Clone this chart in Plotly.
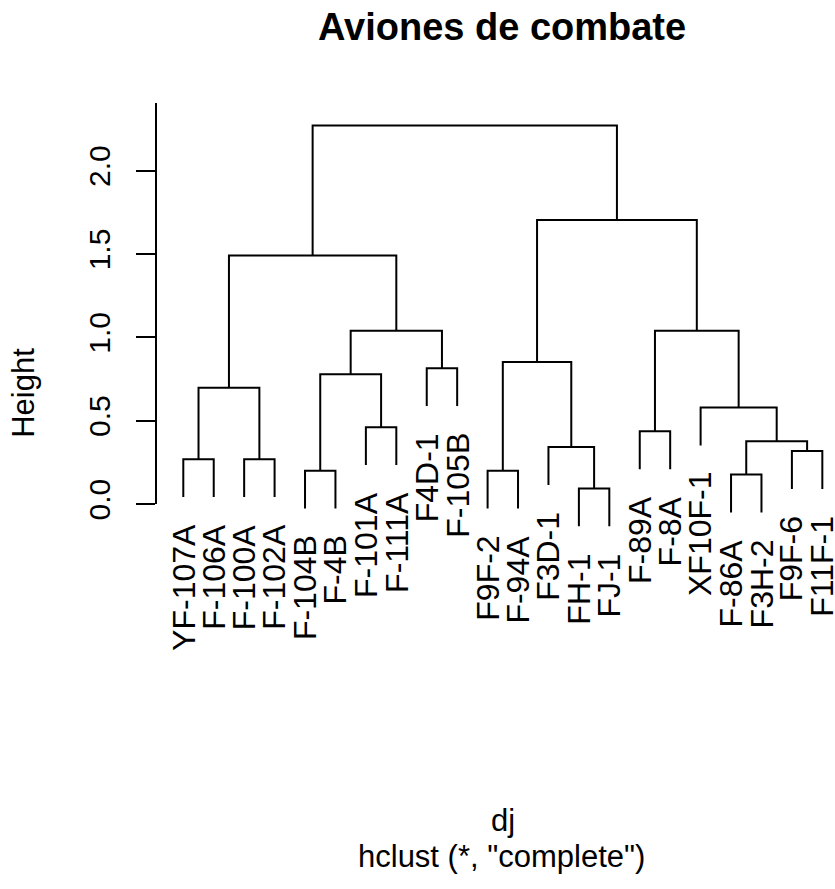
import plotly.graph_objects as go

# ---------------- data ----------------
leaf_labels = ["YF-107A", "F-106A", "F-100A", "F-102A", "F-104B", "F-4B",
               "F-101A", "F-111A", "F4D-1", "F-105B", "F9F-2", "F-94A",
               "F3D-1", "FH-1", "FJ-1", "F-89A", "F-8A", "XF10F-1",
               "F-86A", "F3H-2", "F9F-6", "F11F-1"]
# merge steps (R hclust style): negative = leaf (1-based position in leaf order), positive = earlier merge
merge_left = [-14, -19, -5, -11, -1, -3, -21, -13, 2, -16, -7, -18, 5, 3, -9, 4, 14, 10, 13, 16, 19]
merge_right = [-15, -20, -6, -12, -2, -4, -22, 1, 7, -17, -8, 9, 6, 11, -10, 8, 15, 12, 17, 18, 20]
merge_height = [0.094, 0.177, 0.200, 0.200, 0.269, 0.269, 0.318, 0.342, 0.377, 0.436,
                0.461, 0.579, 0.697, 0.779, 0.815, 0.852, 1.040, 1.040, 1.490, 1.704, 2.271]
y_ticks = [0.0, 0.5, 1.0, 1.5, 2.0]
y_tick_text = ["0.0", "0.5", "1.0", "1.5", "2.0"]

title_text = "Aviones de combate"
ylab_text = "Height"
xlab_text = "dj"
sub_text = 'hclust (*, "complete")'

# ---------------- geometry ----------------
W, H = 835, 889
FONT = "Liberation Sans, Arial, sans-serif"
hang = 0.1 * max(merge_height)

node_x, node_y = {}, {}
def pos(ref):
    if ref < 0:
        return float(-ref), None
    return node_x[ref], node_y[ref]

xs, ys = [], []
leaf_end = {}
for k, (a, b, h) in enumerate(zip(merge_left, merge_right, merge_height), start=1):
    xa, ya = pos(a)
    xb, yb = pos(b)
    if ya is None:
        ya = h - hang
        leaf_end[-a] = ya
    if yb is None:
        yb = h - hang
        leaf_end[-b] = yb
    xs += [xa, xa, xb, xb, None]
    ys += [ya, h, h, yb, None]
    node_x[k] = (xa + xb) / 2
    node_y[k] = h

# pixel calibration of the reference
px_leaf1, px_step = 183.3, 30.43
px_zero, px_per_unit = 513.3, 169.8
x2_range = [1 - px_leaf1 / px_step, 1 + (W - px_leaf1) / px_step]
y2_range = [(px_zero - H) / px_per_unit, px_zero / px_per_unit]

axis_top_px = 105
axis_x_px = 157.3

def py(p):  # pixel y -> paper
    return (H - p) / H

def px(p):
    return p / W

fig = go.Figure()
# invisible trace creating the subplot that carries the visible Height axis
fig.add_trace(go.Scatter(x=[], y=[], xaxis="x", yaxis="y", showlegend=False, hoverinfo="skip"))
# dendrogram
fig.add_trace(go.Scatter(x=xs, y=ys, xaxis="x2", yaxis="y2", mode="lines",
                         line=dict(color="black", width=2), showlegend=False,
                         hoverinfo="skip"))

annotations = []
for i, lab in enumerate(leaf_labels, start=1):
    annotations.append(dict(x=i, y=leaf_end[i] - 0.15, xref="x2", yref="y2",
                            text=lab, showarrow=False, textangle=-90,
                            xanchor="center", yanchor="top",
                            font=dict(family=FONT, size=32, color="black")))

annotations.append(dict(x=px(501.5), y=py(28), xref="paper", yref="paper",
                        text="<b>" + title_text + "</b>", showarrow=False,
                        xanchor="center", yanchor="middle",
                        font=dict(family=FONT, size=38, color="black")))
annotations.append(dict(x=px(24), y=py(400), xref="paper", yref="paper",
                        text=ylab_text, showarrow=False, textangle=-90,
                        xanchor="center", yanchor="middle",
                        font=dict(family=FONT, size=31, color="black")))
annotations.append(dict(x=px(503), y=py(836), xref="paper", yref="paper",
                        text=xlab_text, showarrow=False,
                        xanchor="center", yanchor="middle",
                        font=dict(family=FONT, size=31, color="black")))
annotations.append(dict(x=px(501.5), y=py(872), xref="paper", yref="paper",
                        text=sub_text, showarrow=False,
                        xanchor="center", yanchor="middle",
                        font=dict(family=FONT, size=31, color="black")))

fig.update_layout(
    width=W, height=H,
    margin=dict(l=0, r=0, t=0, b=0),
    paper_bgcolor="white", plot_bgcolor="rgba(0,0,0,0)",
    showlegend=False,
    xaxis=dict(domain=[px(axis_x_px), 1], range=[0, 1], visible=False),
    yaxis=dict(domain=[py(px_zero), py(axis_top_px)],
               range=[0, (px_zero - axis_top_px) / px_per_unit],
               anchor="x", showline=True, linecolor="black", linewidth=2,
               ticks="outside", ticklen=19, tickwidth=2, tickcolor="black",
               tickvals=y_ticks, ticktext=y_tick_text, tickangle=-90,
               tickfont=dict(family=FONT, size=30, color="black"),
               ticklabelstandoff=14,
               showgrid=False, zeroline=False, fixedrange=True),
    xaxis2=dict(domain=[0, 1], range=x2_range, visible=False, anchor="y2"),
    yaxis2=dict(domain=[0, 1], range=y2_range, visible=False, anchor="x2"),
    annotations=annotations,
)

fig.write_html("out.html")
